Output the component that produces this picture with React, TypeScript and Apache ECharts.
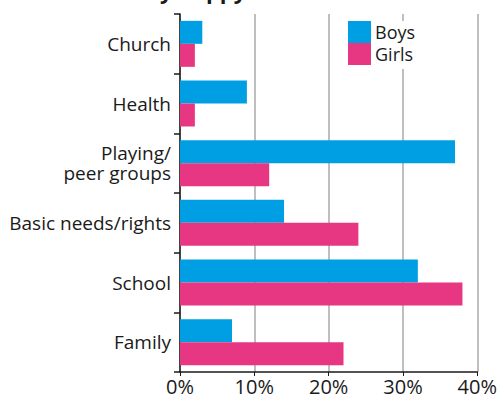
import React, { useEffect, useRef } from "react";
import * as echarts from "echarts";

const categories = ["Family", "School", "Basic needs/rights", "Playing/\npeer groups", "Health", "Church"];
const boys = [7, 32, 14, 37, 9, 3];
const girls = [22, 38, 24, 12, 2, 2];
const xTicks = [0, 10, 20, 30, 40];
const titleText = "When are they happy?";

export default function App() {
  const ref = useRef<HTMLDivElement>(null);
  useEffect(() => {
    const chart = echarts.init(ref.current!, null, { renderer: "svg" });
    const font = "'Open Sans', sans-serif";
    chart.setOption({
      animation: false,
      textStyle: { fontFamily: font },
      graphic: [
        {
          type: "text",
          left: 12,
          top: -21,
          style: { text: titleText, font: "bold 22px 'Open Sans', sans-serif", fill: "#1a1a1a" },
        },
      ],
      legend: {
        orient: "vertical",
        left: 348,
        top: 21,
        padding: [0, 6, 4, 0],
        itemWidth: 23,
        itemHeight: 22,
        itemGap: 0,
        icon: "rect",
        backgroundColor: "#ffffff",
        textStyle: { fontSize: 18, lineHeight: 22, color: "#1a1a1a", fontFamily: font, padding: [0, 0, 0, -1] },
        data: ["Boys", "Girls"],
      },
      grid: { left: 180, right: 22, top: 14, bottom: 31, containLabel: false },
      xAxis: {
        type: "value",
        min: 0,
        max: 40,
        interval: 10,
        axisLine: { show: true, lineStyle: { color: "#1a1a1a", width: 1.5 } },
        axisTick: { show: true, length: 4, lineStyle: { color: "#1a1a1a", width: 1 } },
        splitLine: { show: true, lineStyle: { color: "#aaaaaa", width: 1.5 } },
        axisLabel: {
          fontSize: 20,
          color: "#1a1a1a",
          margin: 4,
          fontFamily: font,
          formatter: (v: number) => (xTicks.includes(v) ? v + "%" : ""),
        },
      },
      yAxis: {
        type: "category",
        data: categories,
        axisLine: { show: true, lineStyle: { color: "#1a1a1a", width: 1.5 } },
        axisTick: { show: true, length: 6, alignWithLabel: false, lineStyle: { color: "#1a1a1a", width: 1.5 } },
        axisLabel: {
          fontSize: 19,
          color: "#1a1a1a",
          margin: 9,
          lineHeight: 20,
          fontFamily: font,
          align: "right",
        },
      },
      series: [
        {
          name: "Boys",
          type: "bar",
          data: boys,
          barWidth: 23,
          barGap: "0%",
          itemStyle: { color: "#009FE3" },
        },
        {
          name: "Girls",
          type: "bar",
          data: girls,
          barWidth: 23,
          barGap: "0%",
          itemStyle: { color: "#E83782" },
        },
      ],
    });
    return () => chart.dispose();
  }, []);
  return <div ref={ref} style={{ width: 500, height: 403, position: "absolute", left: 0, top: 0 }} />;
}
